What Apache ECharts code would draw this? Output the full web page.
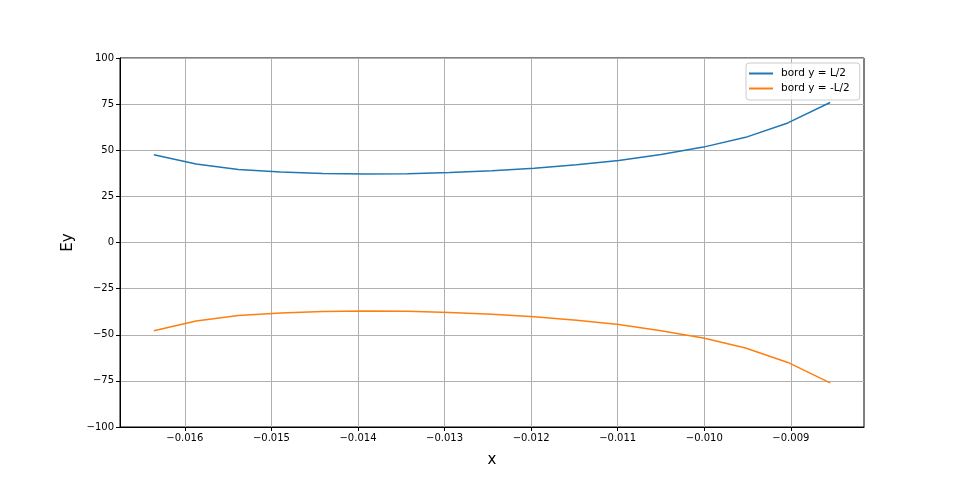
<!DOCTYPE html>
<html>
<head>
<meta charset="utf-8">
<script src="https://cdn.jsdelivr.net/npm/echarts@6/dist/echarts.min.js"></script>
<style>
html,body{margin:0;padding:0;background:#fff;}
#chart{width:960px;height:480px;}
</style>
</head>
<body>
<div id="chart"></div>
<script>
// Data
var xValues = [-0.016358, -0.015870, -0.015382, -0.014893, -0.014405, -0.013917, -0.013429, -0.012941,
               -0.012452, -0.011964, -0.011476, -0.010988, -0.010499, -0.010011, -0.009523, -0.009035, -0.008546];
var eyTop = [47.6, 42.5, 39.6, 38.2, 37.4, 37.1, 37.3, 37.9, 38.9, 40.3, 42.1, 44.5, 47.7, 51.7, 57.0, 64.8, 75.9];
var eyBottom = [-47.8, -42.6, -39.6, -38.2, -37.4, -37.1, -37.3, -37.9, -38.9, -40.3, -42.1, -44.5, -47.8, -51.8, -57.2, -65.0, -76.1];
var seriesNames = ['bord y = L/2', 'bord y = -L/2'];
var xTicks = [-0.016, -0.015, -0.014, -0.013, -0.012, -0.011, -0.010, -0.009];
var yTicks = [-100, -75, -50, -25, 0, 25, 50, 75, 100];

function pairs(xs, ys) {
  var out = [];
  for (var i = 0; i < xs.length; i++) out.push([xs[i], ys[i]]);
  return out;
}
function minusFmt(s) { return String(s).replace('-', '\u2212'); }

var chart = echarts.init(document.getElementById('chart'), null, {renderer: 'canvas'});
var font = 'DejaVu Sans';
chart.setOption({
  animation: false,
  backgroundColor: '#fff',
  grid: {left: 120, right: 96, top: 58, bottom: 53, show: true, borderColor: '#000', borderWidth: 1, backgroundColor: 'transparent'},
  legend: {
    orient: 'vertical', left: 746, top: 63,
    padding: [5, 10, 6, 3],
    borderColor: '#cccccc', borderWidth: 1, borderRadius: 3,
    backgroundColor: 'rgba(255,255,255,0.8)',
    itemWidth: 24, itemHeight: 2, itemGap: 4,
    icon: 'rect',
    textStyle: {fontFamily: font, fontSize: 10.5, color: '#000', padding: [0, 0, 0, 3]},
    data: seriesNames
  },
  xAxis: {
    type: 'value',
    min: -0.016749, max: -0.008155,
    name: 'x', nameLocation: 'middle', nameGap: 26,
    nameTextStyle: {fontFamily: font, fontSize: 15, color: '#000'},
    axisLine: {show: true, onZero: false, lineStyle: {color: '#000', width: 1}},
    axisTick: {show: true, inside: false, length: 4, lineStyle: {color: '#000'}, customValues: xTicks},
    axisLabel: {fontFamily: font, fontSize: 10, color: '#000', margin: 6, customValues: xTicks,
      formatter: function (v) { return minusFmt(Number(v).toFixed(3)); }},
    splitLine: {show: true, lineStyle: {color: '#b0b0b0', width: 1}}
  },
  yAxis: {
    type: 'value',
    min: -100, max: 100, interval: 25,
    name: 'Ey', nameLocation: 'middle', nameGap: 43, nameRotate: 90,
    nameTextStyle: {fontFamily: font, fontSize: 15, color: '#000'},
    axisLine: {show: true, onZero: false, lineStyle: {color: '#000', width: 1}},
    axisTick: {show: true, inside: false, length: 4, lineStyle: {color: '#000'}},
    axisLabel: {fontFamily: font, fontSize: 10, color: '#000', margin: 6,
      formatter: function (v) { return minusFmt(v); }},
    splitLine: {show: true, lineStyle: {color: '#b0b0b0', width: 1}}
  },
  series: [
    {name: seriesNames[0], type: 'line', data: pairs(xValues, eyTop), showSymbol: false, symbol: 'none',
     itemStyle: {color: '#1f77b4'}, lineStyle: {color: '#1f77b4', width: 1.5}},
    {name: seriesNames[1], type: 'line', data: pairs(xValues, eyBottom), showSymbol: false, symbol: 'none',
     itemStyle: {color: '#ff7f0e'}, lineStyle: {color: '#ff7f0e', width: 1.5}}
  ]
});
</script>
</body>
</html>
